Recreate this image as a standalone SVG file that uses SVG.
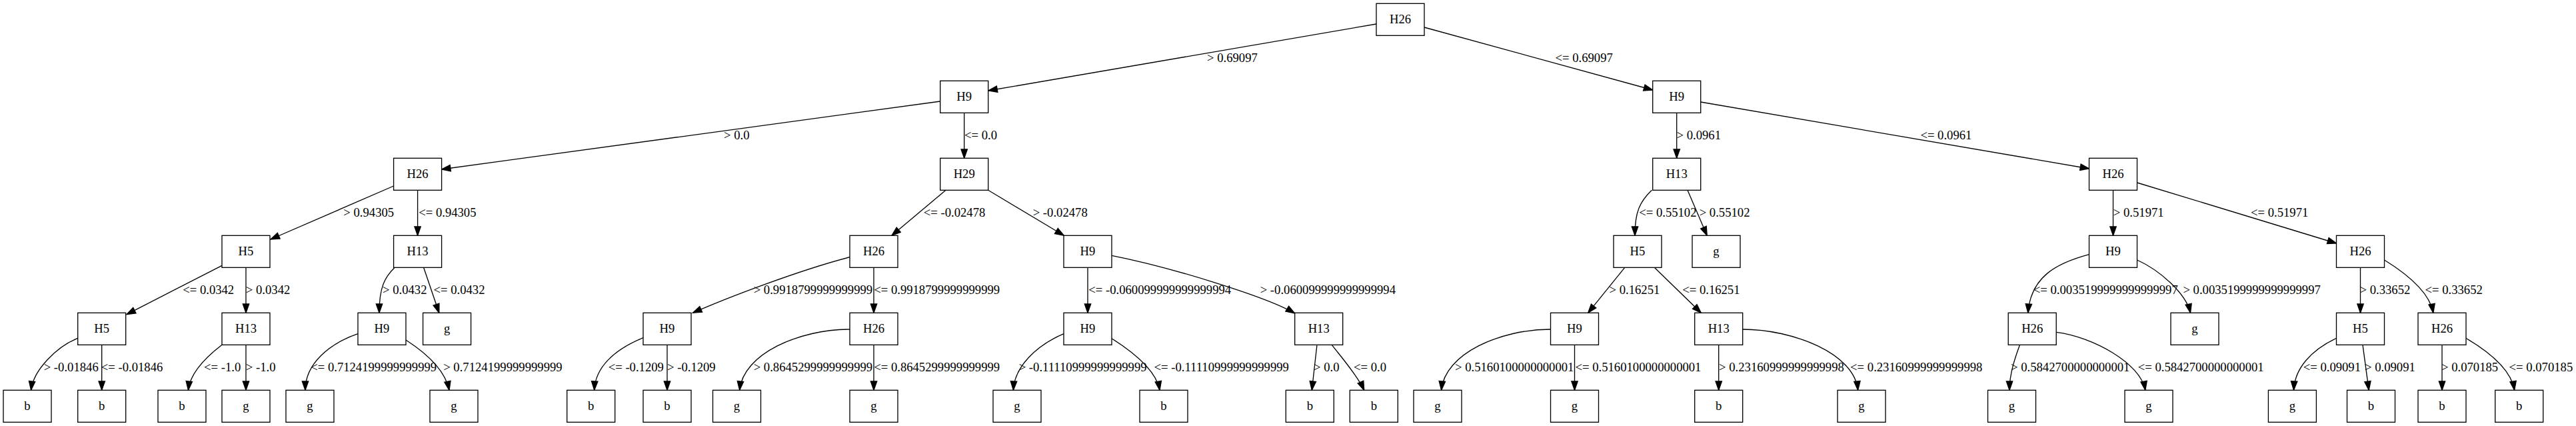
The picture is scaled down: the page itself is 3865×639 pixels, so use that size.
<svg xmlns="http://www.w3.org/2000/svg" width="3865" height="639" viewBox="0 0 3865 639">
<style>
text{font-family:"Liberation Serif","Times New Roman",serif;font-size:18.67px;fill:#000}
.n rect{fill:#fff;stroke:#000;stroke-width:1.33}
.n text{text-anchor:middle}
.e path{fill:none;stroke:#000;stroke-width:1.33;marker-end:url(#a)}
</style>
<defs>
<marker id="a" markerUnits="userSpaceOnUse" markerWidth="16" markerHeight="12" viewBox="-1 -6 16 12" refX="13.33" refY="0" orient="auto" overflow="visible">
<path d="M0,-4.67L13.33,0L0,4.67z" fill="#000" stroke="#000" stroke-width="1.33"/>
</marker>
</defs>
<rect width="3865" height="639" fill="#fff"/>
<g id="edges">
<g id="e1" class="e"><path d="M2065,36 L1483,136"/><text x="1811" y="92.9">&gt; 0.69097</text></g>
<g id="e2" class="e"><path d="M2137,41 L2479.7,135"/><text x="2333.5" y="92.9">&lt;= 0.69097</text></g>
<g id="e3" class="e"><path d="M1410.7,152 L662.6,254"/><text x="1086" y="208.9">&gt; 0.0</text></g>
<g id="e4" class="e"><path d="M1446.7,169.3 L1446.7,237.3"/><text x="1447" y="208.9">&lt;= 0.0</text></g>
<g id="e5" class="e"><path d="M2515.7,169.3 L2515.7,237.3"/><text x="2515.5" y="208.9">&gt; 0.0961</text></g>
<g id="e6" class="e"><path d="M2551.7,153 L3134.5,253"/><text x="2881.4" y="208.9">&lt;= 0.0961</text></g>
<g id="e7" class="e"><path d="M590.6,279 L406,359"/><text x="515.3" y="324.9">&gt; 0.94305</text></g>
<g id="e8" class="e"><path d="M626.6,285.3 L626.6,353.3"/><text x="628.2" y="324.9">&lt;= 0.94305</text></g>
<g id="e9" class="e"><path d="M1419,285.3 L1338,353.3"/><text x="1385.8" y="324.9">&lt;= -0.02478</text></g>
<g id="e10" class="e"><path d="M1482.7,285.3 L1596.3,353.3"/><text x="1549.7" y="324.9">&gt; -0.02478</text></g>
<g id="e11" class="e"><path d="M2478.3,285.3 C2460,303 2453,318 2453,353.3"/><text x="2459.2" y="324.9">&lt;= 0.55102</text></g>
<g id="e12" class="e"><path d="M2532,285.3 L2561.2,353.3"/><text x="2549.7" y="324.9">&gt; 0.55102</text></g>
<g id="e13" class="e"><path d="M3170.5,285.3 L3170.5,353.3"/><text x="3170.8" y="324.9">&gt; 0.51971</text></g>
<g id="e14" class="e"><path d="M3206.5,274 L3505.5,365"/><text x="3377" y="324.9">&lt;= 0.51971</text></g>
<g id="e15" class="e"><path d="M333,398.3 L190,471.7"/><text x="274.2" y="440.9">&lt;= 0.0342</text></g>
<g id="e16" class="e"><path d="M369,401.3 L369,469.3"/><text x="368.8" y="440.9">&gt; 0.0342</text></g>
<g id="e17" class="e"><path d="M591.8,401.7 C578,415 569,430 569,469.3"/><text x="574" y="440.9">&gt; 0.0432</text></g>
<g id="e18" class="e"><path d="M635.8,401.7 L658.8,469.3"/><text x="650.5" y="440.9">&lt;= 0.0432</text></g>
<g id="e19" class="e"><path d="M1275,385.7 C1200,405 1090,447 1039.5,469.3"/><text x="1130.7" y="440.9">&gt; 0.9918799999999999</text></g>
<g id="e20" class="e"><path d="M1311,401.3 L1311,469.3"/><text x="1311.2" y="440.9">&lt;= 0.9918799999999999</text></g>
<g id="e21" class="e"><path d="M1632,401.3 L1632,469.3"/><text x="1633.3" y="440.9">&lt;= -0.060099999999999994</text></g>
<g id="e22" class="e"><path d="M1668,383.3 C1758,401 1902.7,446 1942.7,470"/><text x="1890.7" y="440.9">&gt; -0.060099999999999994</text></g>
<g id="e23" class="e"><path d="M2437.5,401.7 L2382.7,469.3"/><text x="2414.5" y="440.9">&gt; 0.16251</text></g>
<g id="e24" class="e"><path d="M2482.8,401.7 L2552.3,469.3"/><text x="2524.2" y="440.9">&lt;= 0.16251</text></g>
<g id="e25" class="e"><path d="M3134.5,381.7 C3085,395 3047,415 3042.8,469.3"/><text x="3050.8" y="440.9">&lt;= 0.0035199999999999997</text></g>
<g id="e26" class="e"><path d="M3206.5,390 C3240,405 3280,440 3286.5,469.3"/><text x="3275.4" y="440.9">&gt; 0.0035199999999999997</text></g>
<g id="e27" class="e"><path d="M3541.5,401.3 L3541.5,469.3"/><text x="3540.5" y="440.9">&gt; 0.33652</text></g>
<g id="e28" class="e"><path d="M3577.5,390 C3605,407 3645,435 3650.8,469.3"/><text x="3638.5" y="440.9">&lt;= 0.33652</text></g>
<g id="e29" class="e"><path d="M116.7,507.3 C85,520 50,555 46.6,585.3"/><text x="65.7" y="556.9">&gt; -0.01846</text></g>
<g id="e30" class="e"><path d="M152.7,517.3 L152.7,585.3"/><text x="151.8" y="556.9">&lt;= -0.01846</text></g>
<g id="e31" class="e"><path d="M333,517.3 C310,535 285,560 282.5,585.3"/><text x="306.1" y="556.9">&lt;= -1.0</text></g>
<g id="e32" class="e"><path d="M369,517.3 L369,585.3"/><text x="368.8" y="556.9">&gt; -1.0</text></g>
<g id="e33" class="e"><path d="M537,500.7 C495,515 458,545 458,585.3"/><text x="466.2" y="556.9">&lt;= 0.7124199999999999</text></g>
<g id="e34" class="e"><path d="M609,510 C640,530 668,555 674,585.3"/><text x="665.2" y="556.9">&gt; 0.7124199999999999</text></g>
<g id="e35" class="e"><path d="M965,506.7 C920,525 893,552 891.7,585.3"/><text x="912.7" y="556.9">&lt;= -0.1209</text></g>
<g id="e36" class="e"><path d="M1001,517.3 L1001,585.3"/><text x="1001" y="556.9">&gt; -0.1209</text></g>
<g id="e37" class="e"><path d="M1275,494 C1200,494 1115,530 1109.7,585.3"/><text x="1130.7" y="556.9">&gt; 0.8645299999999999</text></g>
<g id="e38" class="e"><path d="M1311,517.3 L1311,585.3"/><text x="1311.2" y="556.9">&lt;= 0.8645299999999999</text></g>
<g id="e39" class="e"><path d="M1596,500.7 C1555,518 1522,550 1520.4,585.3"/><text x="1528.7" y="556.9">&gt; -0.11110999999999999</text></g>
<g id="e40" class="e"><path d="M1668,507.7 C1700,528 1735,555 1740,585.3"/><text x="1731.5" y="556.9">&lt;= -0.11110999999999999</text></g>
<g id="e41" class="e"><path d="M1976,517.3 L1968.3,585.3"/><text x="1971" y="556.9">&gt; 0.0</text></g>
<g id="e42" class="e"><path d="M1998.3,517.3 C2012,535 2038,565 2046.7,585.3"/><text x="2031" y="556.9">&lt;= 0.0</text></g>
<g id="e43" class="e"><path d="M2326.5,494 C2251.5,494 2167.6,530 2162.6,585.3"/><text x="2183" y="556.9">&gt; 0.5160100000000001</text></g>
<g id="e44" class="e"><path d="M2362.5,517.3 L2362.5,585.3"/><text x="2363.5" y="556.9">&lt;= 0.5160100000000001</text></g>
<g id="e45" class="e"><path d="M2578.7,517.3 L2578.7,585.3"/><text x="2579.1" y="556.9">&gt; 0.23160999999999998</text></g>
<g id="e46" class="e"><path d="M2614.7,494 C2689.7,494 2782.6,530 2787.6,585.3"/><text x="2776.1" y="556.9">&lt;= 0.23160999999999998</text></g>
<g id="e47" class="e"><path d="M3030.5,517.3 C3024,535 3015,560 3015,585.3"/><text x="3017" y="556.9">&gt; 0.5842700000000001</text></g>
<g id="e48" class="e"><path d="M3085.2,498.3 C3140,505 3212,545 3218.8,585.3"/><text x="3207.7" y="556.9">&lt;= 0.5842700000000001</text></g>
<g id="e49" class="e"><path d="M3505.5,507.3 C3468,525 3443,552 3441.5,585.3"/><text x="3455.7" y="556.9">&lt;= 0.09091</text></g>
<g id="e50" class="e"><path d="M3545,517.3 L3554.2,585.3"/><text x="3548" y="556.9">&gt; 0.09091</text></g>
<g id="e51" class="e"><path d="M3664,517.3 L3664,585.3"/><text x="3663" y="556.9">&gt; 0.070185</text></g>
<g id="e52" class="e"><path d="M3700,507.3 C3735,528 3768,555 3772.6,585.3"/><text x="3764.6" y="556.9">&lt;= 0.070185</text></g>
</g>
<g id="nodes">
<g id="n0" class="n"><rect x="2065" y="5.3" width="72" height="48"/><text x="2101" y="34.9">H26</text></g>
<g id="n1" class="n"><rect x="1410.7" y="121.3" width="72" height="48"/><text x="1446.7" y="150.9">H9</text></g>
<g id="n2" class="n"><rect x="2479.7" y="121.3" width="72" height="48"/><text x="2515.7" y="150.9">H9</text></g>
<g id="n3" class="n"><rect x="590.6" y="237.3" width="72" height="48"/><text x="626.6" y="266.9">H26</text></g>
<g id="n4" class="n"><rect x="1410.7" y="237.3" width="72" height="48"/><text x="1446.7" y="266.9">H29</text></g>
<g id="n5" class="n"><rect x="2479.7" y="237.3" width="72" height="48"/><text x="2515.7" y="266.9">H13</text></g>
<g id="n6" class="n"><rect x="3134.5" y="237.3" width="72" height="48"/><text x="3170.5" y="266.9">H26</text></g>
<g id="n7" class="n"><rect x="333" y="353.3" width="72" height="48"/><text x="369" y="382.9">H5</text></g>
<g id="n8" class="n"><rect x="590.6" y="353.3" width="72" height="48"/><text x="626.6" y="382.9">H13</text></g>
<g id="n9" class="n"><rect x="1275" y="353.3" width="72" height="48"/><text x="1311" y="382.9">H26</text></g>
<g id="n10" class="n"><rect x="1596" y="353.3" width="72" height="48"/><text x="1632" y="382.9">H9</text></g>
<g id="n11" class="n"><rect x="2421" y="353.3" width="72" height="48"/><text x="2457" y="382.9">H5</text></g>
<g id="n12" class="n"><rect x="2539" y="353.3" width="72" height="48"/><text x="2575" y="382.9">g</text></g>
<g id="n13" class="n"><rect x="3134.5" y="353.3" width="72" height="48"/><text x="3170.5" y="382.9">H9</text></g>
<g id="n14" class="n"><rect x="3505.5" y="353.3" width="72" height="48"/><text x="3541.5" y="382.9">H26</text></g>
<g id="n15" class="n"><rect x="116.7" y="469.3" width="72" height="48"/><text x="152.7" y="498.9">H5</text></g>
<g id="n16" class="n"><rect x="333" y="469.3" width="72" height="48"/><text x="369" y="498.9">H13</text></g>
<g id="n17" class="n"><rect x="537" y="469.3" width="72" height="48"/><text x="573" y="498.9">H9</text></g>
<g id="n18" class="n"><rect x="634.6" y="469.3" width="72" height="48"/><text x="670.6" y="498.9">g</text></g>
<g id="n19" class="n"><rect x="965" y="469.3" width="72" height="48"/><text x="1001" y="498.9">H9</text></g>
<g id="n20" class="n"><rect x="1275" y="469.3" width="72" height="48"/><text x="1311" y="498.9">H26</text></g>
<g id="n21" class="n"><rect x="1596" y="469.3" width="72" height="48"/><text x="1632" y="498.9">H9</text></g>
<g id="n22" class="n"><rect x="1942.7" y="469.3" width="72" height="48"/><text x="1978.7" y="498.9">H13</text></g>
<g id="n23" class="n"><rect x="2326.5" y="469.3" width="72" height="48"/><text x="2362.5" y="498.9">H9</text></g>
<g id="n24" class="n"><rect x="2542.7" y="469.3" width="72" height="48"/><text x="2578.7" y="498.9">H13</text></g>
<g id="n25" class="n"><rect x="3013.2" y="469.3" width="72" height="48"/><text x="3049.2" y="498.9">H26</text></g>
<g id="n26" class="n"><rect x="3257" y="469.3" width="72" height="48"/><text x="3293" y="498.9">g</text></g>
<g id="n27" class="n"><rect x="3505.5" y="469.3" width="72" height="48"/><text x="3541.5" y="498.9">H5</text></g>
<g id="n28" class="n"><rect x="3628" y="469.3" width="72" height="48"/><text x="3664" y="498.9">H26</text></g>
<g id="n29" class="n"><rect x="5" y="585.3" width="72" height="48"/><text x="41" y="614.9">b</text></g>
<g id="n30" class="n"><rect x="116.7" y="585.3" width="72" height="48"/><text x="152.7" y="614.9">b</text></g>
<g id="n31" class="n"><rect x="237" y="585.3" width="72" height="48"/><text x="273" y="614.9">b</text></g>
<g id="n32" class="n"><rect x="333" y="585.3" width="72" height="48"/><text x="369" y="614.9">g</text></g>
<g id="n33" class="n"><rect x="429" y="585.3" width="72" height="48"/><text x="465" y="614.9">g</text></g>
<g id="n34" class="n"><rect x="645" y="585.3" width="72" height="48"/><text x="681" y="614.9">g</text></g>
<g id="n35" class="n"><rect x="850.7" y="585.3" width="72" height="48"/><text x="886.7" y="614.9">b</text></g>
<g id="n36" class="n"><rect x="965" y="585.3" width="72" height="48"/><text x="1001" y="614.9">b</text></g>
<g id="n37" class="n"><rect x="1069.5" y="585.3" width="72" height="48"/><text x="1105.5" y="614.9">g</text></g>
<g id="n38" class="n"><rect x="1275" y="585.3" width="72" height="48"/><text x="1311" y="614.9">g</text></g>
<g id="n39" class="n"><rect x="1490" y="585.3" width="72" height="48"/><text x="1526" y="614.9">g</text></g>
<g id="n40" class="n"><rect x="1710" y="585.3" width="72" height="48"/><text x="1746" y="614.9">b</text></g>
<g id="n41" class="n"><rect x="1929.3" y="585.3" width="72" height="48"/><text x="1965.3" y="614.9">b</text></g>
<g id="n42" class="n"><rect x="2025.3" y="585.3" width="72" height="48"/><text x="2061.3" y="614.9">b</text></g>
<g id="n43" class="n"><rect x="2121" y="585.3" width="72" height="48"/><text x="2157" y="614.9">g</text></g>
<g id="n44" class="n"><rect x="2326.5" y="585.3" width="72" height="48"/><text x="2362.5" y="614.9">g</text></g>
<g id="n45" class="n"><rect x="2542.7" y="585.3" width="72" height="48"/><text x="2578.7" y="614.9">b</text></g>
<g id="n46" class="n"><rect x="2757" y="585.3" width="72" height="48"/><text x="2793" y="614.9">g</text></g>
<g id="n47" class="n"><rect x="2982.5" y="585.3" width="72" height="48"/><text x="3018.5" y="614.9">g</text></g>
<g id="n48" class="n"><rect x="3188" y="585.3" width="72" height="48"/><text x="3224" y="614.9">g</text></g>
<g id="n49" class="n"><rect x="3403.4" y="585.3" width="72" height="48"/><text x="3439.4" y="614.9">g</text></g>
<g id="n50" class="n"><rect x="3521.5" y="585.3" width="72" height="48"/><text x="3557.5" y="614.9">b</text></g>
<g id="n51" class="n"><rect x="3628" y="585.3" width="72" height="48"/><text x="3664" y="614.9">b</text></g>
<g id="n52" class="n"><rect x="3743.7" y="585.3" width="72" height="48"/><text x="3779.7" y="614.9">b</text></g>
</g>
</svg>
